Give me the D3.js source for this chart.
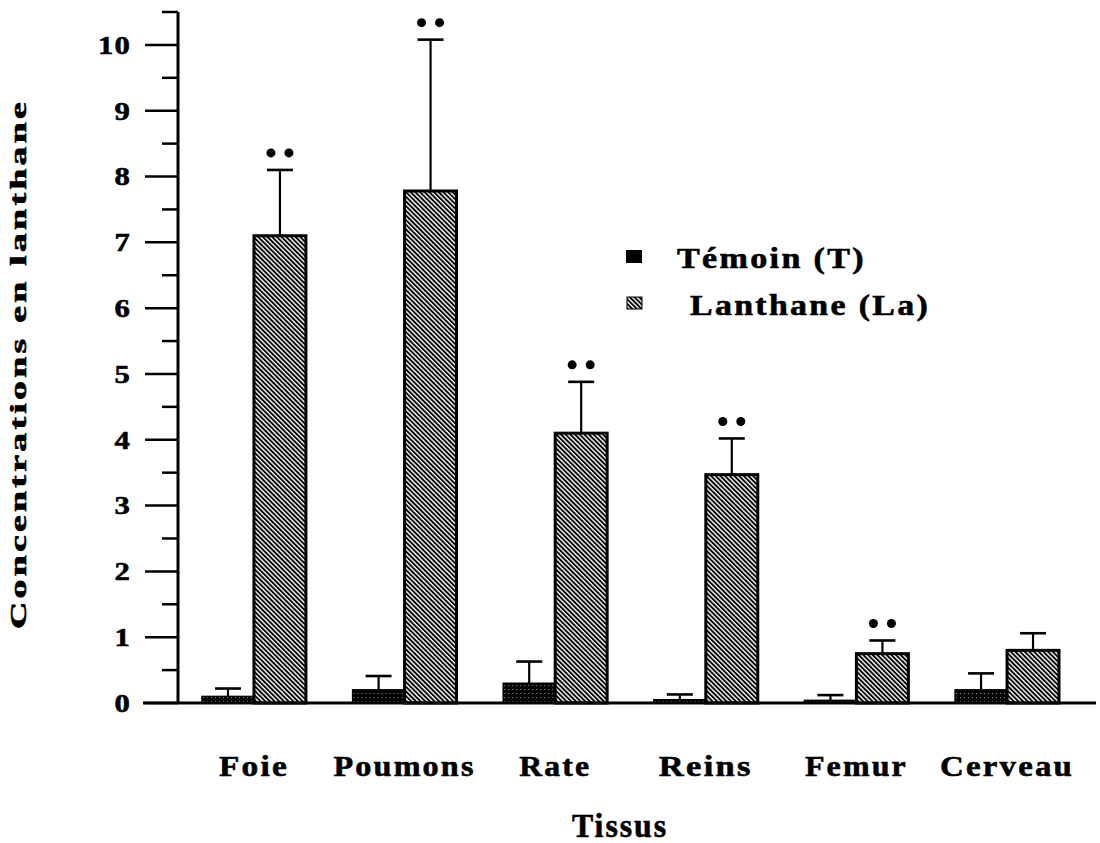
<!DOCTYPE html>
<html>
<head>
<meta charset="utf-8">
<script src="https://cdn.jsdelivr.net/npm/d3@7"></script>
<style>
  html, body { margin: 0; padding: 0; background: #fff; }
  svg { display: block; }
  text { font-family: "Liberation Serif", "Times New Roman", serif; font-weight: bold; fill: #000;
         stroke: #000; stroke-width: 0.6px; letter-spacing: 2px; }
</style>
</head>
<body>
<svg id="chart" width="1100" height="843"></svg>
<script>
// Tissue categories and lanthanum concentrations (mean and SD) per group
const tissues = ["Foie", "Poumons", "Rate", "Reins", "Femur", "Cerveau"];
const groups = ["T", "La"];
const temoinMean = [0.10, 0.20, 0.30, 0.05, 0.04, 0.20];
const temoinSD   = [0.12, 0.21, 0.33, 0.08, 0.08, 0.25];
const lanthaneMean = [7.10, 7.78, 4.10, 3.47, 0.75, 0.80];
const lanthaneSD   = [1.00, 2.30, 0.78, 0.55, 0.20, 0.26];
const significant  = [true, true, true, true, true, false];   // ** p < 0.01
const yTicks = [0, 1, 2, 3, 4, 5, 6, 7, 8, 9, 10];
const legendLabels = ["Témoin (T)", "Lanthane (La)"];

const svg = d3.select("#chart");

// Wide typewriter-like text: glyphs stretched to a set run length
function fit(sel, len) {
  return sel.attr("textLength", len).attr("lengthAdjust", "spacingAndGlyphs");
}

// Patterns: stippled dark fill for controls, diagonal hatch for La
const defs = svg.append("defs");
const stip = defs.append("pattern").attr("id", "stipple")
  .attr("patternUnits", "userSpaceOnUse").attr("width", 4).attr("height", 4);
stip.append("rect").attr("width", 4).attr("height", 4).attr("fill", "#000");
stip.append("rect").attr("x", 1).attr("y", 1).attr("width", 1).attr("height", 1).attr("fill", "#999");

const hatch = defs.append("pattern").attr("id", "hatch")
  .attr("patternUnits", "userSpaceOnUse").attr("width", 3.3).attr("height", 10)
  .attr("patternTransform", "rotate(-45)");
hatch.append("rect").attr("width", 3.3).attr("height", 10).attr("fill", "#fff");
hatch.append("rect").attr("width", 1.9).attr("height", 10).attr("fill", "#000");

// Scales
const y = d3.scaleLinear().domain([0, 10.5]).range([703, 12]);
const x0 = d3.scaleBand().domain(tissues).range([202, 1059]).paddingInner(0.31).paddingOuter(0);
const x1 = d3.scaleBand().domain(groups).range([0, x0.bandwidth()]);

const rows = tissues.map((t, i) => ({
  tissue: t,
  bars: [
    { g: "T", mean: temoinMean[i], sd: temoinSD[i], sig: false },
    { g: "La", mean: lanthaneMean[i], sd: lanthaneSD[i], sig: significant[i] }
  ]
}));

// Bars
const gGroup = svg.append("g").selectAll("g").data(rows).join("g")
  .attr("transform", d => `translate(${x0(d.tissue)},0)`);

gGroup.selectAll("rect").data(d => d.bars).join("rect")
  .attr("x", d => x1(d.g))
  .attr("width", x1.bandwidth())
  .attr("y", d => y(d.mean))
  .attr("height", d => y(0) - y(d.mean))
  .attr("fill", d => d.g === "T" ? "url(#stipple)" : "url(#hatch)")
  .attr("stroke", "#000")
  .attr("stroke-width", d => d.g === "T" ? 1.5 : 3);

// Error bars (upper only)
const eb = gGroup.selectAll("g.err").data(d => d.bars).join("g").attr("class", "err");
eb.append("line")
  .attr("x1", d => x1(d.g) + x1.bandwidth() / 2)
  .attr("x2", d => x1(d.g) + x1.bandwidth() / 2)
  .attr("y1", d => y(d.mean))
  .attr("y2", d => y(d.mean + d.sd))
  .attr("stroke", "#000").attr("stroke-width", 2.2);
eb.append("line")
  .attr("x1", d => x1(d.g) + x1.bandwidth() / 2 - 13)
  .attr("x2", d => x1(d.g) + x1.bandwidth() / 2 + 13)
  .attr("y1", d => y(d.mean + d.sd))
  .attr("y2", d => y(d.mean + d.sd))
  .attr("stroke", "#000").attr("stroke-width", 2.6);

// Significance marks
eb.filter(d => d.sig).each(function (d) {
  const cx = x1(d.g) + x1.bandwidth() / 2;
  const cy = y(d.mean + d.sd) - 17;
  d3.select(this).selectAll("circle").data([-9, 9]).join("circle")
    .attr("cx", o => cx + o).attr("cy", cy).attr("r", 4.5).attr("fill", "#000");
});

// Y axis: line, major ticks at integers, minor ticks at halves
const yAxis = svg.append("g");
yAxis.append("line").attr("x1", 178).attr("x2", 178)
  .attr("y1", y(10.5)).attr("y2", y(0)).attr("stroke", "#000").attr("stroke-width", 3);
const halfTicks = d3.range(0.5, 10.51, 1);
yAxis.selectAll("line.minor").data(halfTicks).join("line").attr("class", "minor")
  .attr("x1", 162).attr("x2", 178).attr("y1", d => y(d)).attr("y2", d => y(d))
  .attr("stroke", "#000").attr("stroke-width", 2.5);
yAxis.selectAll("line.major").data(yTicks).join("line").attr("class", "major")
  .attr("x1", 145).attr("x2", 178).attr("y1", d => y(d)).attr("y2", d => y(d))
  .attr("stroke", "#000").attr("stroke-width", 2.5);
yAxis.selectAll("text").data(yTicks).join("text")
  .attr("x", 131).attr("y", d => y(d)).attr("dy", "0.34em")
  .attr("text-anchor", "end").attr("font-size", 26)
  .style("letter-spacing", "1px")
  .each(function (d) { fit(d3.select(this), String(d).length * 16.5); })
  .text(d => d);

// Baseline
svg.append("line").attr("x1", 143).attr("x2", 1096)
  .attr("y1", y(0)).attr("y2", y(0)).attr("stroke", "#000").attr("stroke-width", 3);

// Category labels
const labelWidths = { Foie: 70, Poumons: 142, Rate: 72, Reins: 94, Femur: 103, Cerveau: 134 };
svg.append("g").selectAll("text").data(tissues).join("text")
  .attr("x", d => x0(d) + x0.bandwidth() / 2)
  .attr("y", 776)
  .attr("text-anchor", "middle").attr("font-size", 30)
  .each(function (d) { fit(d3.select(this), labelWidths[d]); })
  .text(d => d);

// Axis titles
fit(svg.append("text").attr("x", 620).attr("y", 837).attr("text-anchor", "middle")
  .attr("font-size", 33), 96)
  .text("Tissus");
fit(svg.append("text").attr("transform", "translate(26,364) rotate(-90)")
  .attr("text-anchor", "middle").attr("font-size", 23), 530)
  .text("Concentrations en lanthane");

// Legend
const legend = svg.append("g");
legend.append("rect").attr("x", 626).attr("y", 250).attr("width", 16).attr("height", 13).attr("fill", "#000");
legend.append("rect").attr("x", 627).attr("y", 297).attr("width", 15).attr("height", 12)
  .attr("fill", "url(#hatch)").attr("stroke", "#000").attr("stroke-width", 1);
fit(legend.append("text").attr("x", 677).attr("y", 268).attr("font-size", 29), 189)
  .text(legendLabels[0]);
fit(legend.append("text").attr("x", 690).attr("y", 315).attr("font-size", 29), 240)
  .text(legendLabels[1]);
</script>
</body>
</html>
